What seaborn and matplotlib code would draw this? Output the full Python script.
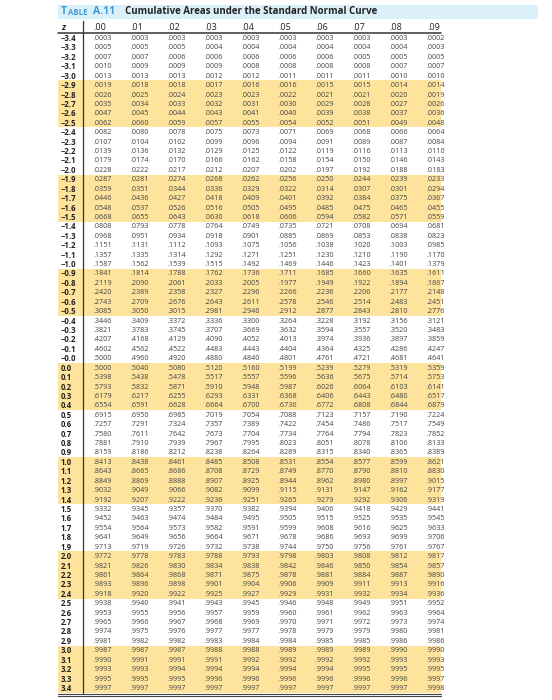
import numpy as np
import matplotlib
matplotlib.use("Agg")
import matplotlib.pyplot as plt
from matplotlib.colors import ListedColormap
import seaborn as sns

col_labels = [".00", ".01", ".02", ".03", ".04", ".05", ".06", ".07", ".08", ".09"]
z_labels = ["\u22123.4", "\u22123.3", "\u22123.2", "\u22123.1", "\u22123.0",
            "\u22122.9", "\u22122.8", "\u22122.7", "\u22122.6", "\u22122.5",
            "\u22122.4", "\u22122.3", "\u22122.2", "\u22122.1", "\u22122.0",
            "\u22121.9", "\u22121.8", "\u22121.7", "\u22121.6", "\u22121.5",
            "\u22121.4", "\u22121.3", "\u22121.2", "\u22121.1", "\u22121.0",
            "\u22120.9", "\u22120.8", "\u22120.7", "\u22120.6", "\u22120.5",
            "\u22120.4", "\u22120.3", "\u22120.2", "\u22120.1", "\u22120.0",
            "0.0", "0.1", "0.2", "0.3", "0.4", "0.5", "0.6", "0.7", "0.8", "0.9",
            "1.0", "1.1", "1.2", "1.3", "1.4", "1.5", "1.6", "1.7", "1.8", "1.9",
            "2.0", "2.1", "2.2", "2.3", "2.4", "2.5", "2.6", "2.7", "2.8", "2.9",
            "3.0", "3.1", "3.2", "3.3", "3.4"]

rows_negative = """
0003 0003 0003 0003 0003 0003 0003 0003 0003 0002
0005 0005 0005 0004 0004 0004 0004 0004 0004 0003
0007 0007 0006 0006 0006 0006 0006 0005 0005 0005
0010 0009 0009 0009 0008 0008 0008 0008 0007 0007
0013 0013 0013 0012 0012 0011 0011 0011 0010 0010
0019 0018 0018 0017 0016 0016 0015 0015 0014 0014
0026 0025 0024 0023 0023 0022 0021 0021 0020 0019
0035 0034 0033 0032 0031 0030 0029 0028 0027 0026
0047 0045 0044 0043 0041 0040 0039 0038 0037 0036
0062 0060 0059 0057 0055 0054 0052 0051 0049 0048
0082 0080 0078 0075 0073 0071 0069 0068 0066 0064
0107 0104 0102 0099 0096 0094 0091 0089 0087 0084
0139 0136 0132 0129 0125 0122 0119 0116 0113 0110
0179 0174 0170 0166 0162 0158 0154 0150 0146 0143
0228 0222 0217 0212 0207 0202 0197 0192 0188 0183
0287 0281 0274 0268 0262 0256 0250 0244 0239 0233
0359 0351 0344 0336 0329 0322 0314 0307 0301 0294
0446 0436 0427 0418 0409 0401 0392 0384 0375 0367
0548 0537 0526 0516 0505 0495 0485 0475 0465 0455
0668 0655 0643 0630 0618 0606 0594 0582 0571 0559
0808 0793 0778 0764 0749 0735 0721 0708 0694 0681
0968 0951 0934 0918 0901 0885 0869 0853 0838 0823
1151 1131 1112 1093 1075 1056 1038 1020 1003 0985
1357 1335 1314 1292 1271 1251 1230 1210 1190 1170
1587 1562 1539 1515 1492 1469 1446 1423 1401 1379
1841 1814 1788 1762 1736 1711 1685 1660 1635 1611
2119 2090 2061 2033 2005 1977 1949 1922 1894 1867
2420 2389 2358 2327 2296 2266 2236 2206 2177 2148
2743 2709 2676 2643 2611 2578 2546 2514 2483 2451
3085 3050 3015 2981 2946 2912 2877 2843 2810 2776
3446 3409 3372 3336 3300 3264 3228 3192 3156 3121
3821 3783 3745 3707 3669 3632 3594 3557 3520 3483
4207 4168 4129 4090 4052 4013 3974 3936 3897 3859
4602 4562 4522 4483 4443 4404 4364 4325 4286 4247
5000 4960 4920 4880 4840 4801 4761 4721 4681 4641
"""

rows_positive = """
5000 5040 5080 5120 5160 5199 5239 5279 5319 5359
5398 5438 5478 5517 5557 5596 5636 5675 5714 5753
5793 5832 5871 5910 5948 5987 6026 6064 6103 6141
6179 6217 6255 6293 6331 6368 6406 6443 6480 6517
6554 6591 6628 6664 6700 6736 6772 6808 6844 6879
6915 6950 6985 7019 7054 7088 7123 7157 7190 7224
7257 7291 7324 7357 7389 7422 7454 7486 7517 7549
7580 7611 7642 7673 7704 7734 7764 7794 7823 7852
7881 7910 7939 7967 7995 8023 8051 8078 8106 8133
8159 8186 8212 8238 8264 8289 8315 8340 8365 8389
8413 8438 8461 8485 8508 8531 8554 8577 8599 8621
8643 8665 8686 8708 8729 8749 8770 8790 8810 8830
8849 8869 8888 8907 8925 8944 8962 8980 8997 9015
9032 9049 9066 9082 9099 9115 9131 9147 9162 9177
9192 9207 9222 9236 9251 9265 9279 9292 9306 9319
9332 9345 9357 9370 9382 9394 9406 9418 9429 9441
9452 9463 9474 9484 9495 9505 9515 9525 9535 9545
9554 9564 9573 9582 9591 9599 9608 9616 9625 9633
9641 9649 9656 9664 9671 9678 9686 9693 9699 9706
9713 9719 9726 9732 9738 9744 9750 9756 9761 9767
9772 9778 9783 9788 9793 9798 9803 9808 9812 9817
9821 9826 9830 9834 9838 9842 9846 9850 9854 9857
9861 9864 9868 9871 9875 9878 9881 9884 9887 9890
9893 9896 9898 9901 9904 9906 9909 9911 9913 9916
9918 9920 9922 9925 9927 9929 9931 9932 9934 9936
9938 9940 9941 9943 9945 9946 9948 9949 9951 9952
9953 9955 9956 9957 9959 9960 9961 9962 9963 9964
9965 9966 9967 9968 9969 9970 9971 9972 9973 9974
9974 9975 9976 9977 9977 9978 9979 9979 9980 9981
9981 9982 9982 9983 9984 9984 9985 9985 9986 9986
9987 9987 9987 9988 9988 9989 9989 9989 9990 9990
9990 9991 9991 9991 9992 9992 9992 9992 9993 9993
9993 9993 9994 9994 9994 9994 9994 9995 9995 9995
9995 9995 9995 9996 9996 9996 9996 9996 9996 9997
9997 9997 9997 9997 9997 9997 9997 9997 9997 9998
"""

cells = [r.split() for r in (rows_negative + rows_positive).splitlines() if r.strip()]
nrows = len(z_labels)

W, H = 552, 700
fig = plt.figure(figsize=(W / 100, H / 100), dpi=100)
sns.set_style("white")
plt.rcParams['font.family'] = ['Open Sans', 'DejaVu Sans']

x0, x1 = 58, 441
y_top, y_bot = 33.3, 692.7
ax = fig.add_axes([x0 / W, 1 - y_bot / H, (x1 - x0) / W, (y_bot - y_top) / H])

band = np.array([[(i // 5) % 2] * 11 for i in range(nrows)])
sns.heatmap(band, ax=ax, cmap=ListedColormap(["#ffffff", "#fde39c"]), cbar=False,
            xticklabels=False, yticklabels=False, vmin=0, vmax=1)
ax.set_xticks([]); ax.set_yticks([])

def px2x(px):
    return (px - x0) / (x1 - x0) * 11

col_px = [93 + 37.1 * i for i in range(10)]
txt = "#444444"
for i in range(nrows):
    ax.text(px2x(61), i + 0.55, z_labels[i], fontsize=5.6, fontweight="bold",
            color="#222222", ha="left", va="center")
    for j in range(10):
        ax.text(px2x(col_px[j]), i + 0.55, "." + cells[i][j], fontsize=5.2,
                color=txt, ha="left", va="center")

ov = fig.add_axes([0, 0, 1, 1], facecolor="none")
ov.set_xlim(0, W); ov.set_ylim(H, 0); ov.axis("off")
ov.add_patch(plt.Rectangle((58, 5), 480, 13.5, color="#dcf0fb", lw=0))
ov.text(61, 11.8, "T", fontsize=7.5, fontweight="bold", color="#3b9ad6", va="center")
ov.text(67.5, 12.3, "ABLE", fontsize=5.6, fontweight="bold", color="#3b9ad6", va="center")
ov.text(93, 11.8, "A.11", fontsize=7.5, fontweight="bold", color="#3b9ad6", va="center")
ov.text(125, 11.8, "Cumulative Areas under the Standard Normal Curve", fontsize=7,
        fontweight="bold", color="#222222", va="center")
ov.text(61, 27, "z", fontsize=6.5, fontweight="bold", fontstyle="italic", color="#222222", va="center")
for j in range(10):
    ov.text(col_px[j], 27, col_labels[j], fontsize=6.5, color="#222222", va="center")
ov.plot([58, 441], [32.5, 32.5], color="#444444", lw=1.2)
ov.plot([83, 83], [21, 693], color="#333333", lw=0.9)
ov.plot([58, 441], [693.5, 693.5], color="#444444", lw=0.8)
ov.plot([58, 441], [696, 696], color="#444444", lw=0.8)

fig.savefig("out.png", dpi=100)
